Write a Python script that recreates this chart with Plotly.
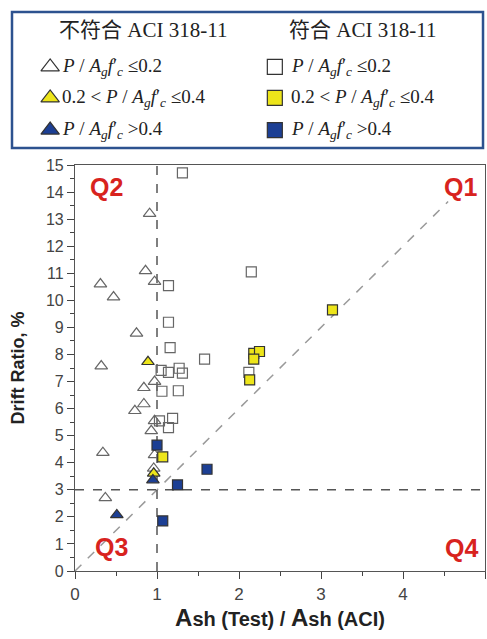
import plotly.graph_objects as go

# ---------------- data ----------------
# non-compliant (triangles)
tri_open_x = [0.91, 0.86, 0.97, 0.31, 0.47, 0.75, 0.32, 0.97, 0.84, 0.73, 0.84, 0.97, 0.93, 0.34, 0.97, 0.96, 0.37]
tri_open_y = [13.2, 11.09, 10.69, 10.6, 10.12, 8.78, 7.57, 7.0, 6.77, 5.92, 6.17, 5.55, 5.18, 4.37, 4.29, 3.79, 2.7]
tri_yel_x = [0.89, 0.96]
tri_yel_y = [7.73, 3.61]
tri_blue_x = [0.95, 0.51]
tri_blue_y = [3.36, 2.07]
# compliant (squares)
sq_open_x = [1.31, 2.15, 1.14, 1.14, 1.16, 1.58, 1.05, 1.14, 1.27, 1.31, 2.12, 1.06, 1.26, 1.03, 1.19, 1.14]
sq_open_y = [14.71, 11.05, 10.54, 9.19, 8.25, 7.83, 7.41, 7.34, 7.49, 7.31, 7.34, 6.64, 6.66, 5.55, 5.64, 5.3]
sq_yel_x = [3.14, 2.18, 2.25, 2.18, 2.13, 1.07]
sq_yel_y = [9.65, 8.04, 8.11, 7.83, 7.06, 4.22]
sq_blue_x = [1.0, 1.61, 1.25, 1.07]
sq_blue_y = [4.65, 3.76, 3.18, 1.85]

x_ticks = [0, 1, 2, 3, 4, 5]
y_ticks = list(range(0, 16))
quadrants = ["Q1", "Q2", "Q3", "Q4"]

legend_headers = ["不符合 ACI 318-11", "符合 ACI 318-11"]
ratio = "<i>P</i> / <i>A</i><sub><i>g</i></sub><i>f</i>′<sub><i>c</i></sub>"
legend_labels = [ratio + " ≤0.2", "0.2 < " + ratio + " ≤0.4", ratio + " >0.4"]

# ---------------- styles ----------------
YEL = "#EDE51A"
BLUE = "#1C3F94"
OPEN = "#666666"
EDGE = "#333333"

fig = go.Figure()

# reference lines (drawn as data lines in axis coords)
fig.add_trace(go.Scatter(x=[0, 4.55], y=[0, 13.65], mode="lines",
                         line=dict(color="#9a9a9a", width=1.5, dash="dash"),
                         hoverinfo="skip", showlegend=False))
fig.add_trace(go.Scatter(x=[1, 1], y=[0, 15], mode="lines",
                         line=dict(color="#555555", width=1.5, dash="dash"),
                         hoverinfo="skip", showlegend=False))
fig.add_trace(go.Scatter(x=[0, 5], y=[3, 3], mode="lines",
                         line=dict(color="#555555", width=1.5, dash="dash"),
                         hoverinfo="skip", showlegend=False))

def add_pts(x, y, symbol, color, edge, size, xa="x", ya="y"):
    fig.add_trace(go.Scatter(
        x=x, y=y, mode="markers", xaxis=xa, yaxis=ya, showlegend=False,
        marker=dict(symbol=symbol, size=size, color=color,
                    line=dict(color=edge, width=1.2))))

add_pts(tri_open_x, tri_open_y, "triangle-up", "rgba(255,255,255,0)", OPEN, 11)
add_pts(sq_open_x, sq_open_y, "square", "rgba(255,255,255,0)", OPEN, 10)
add_pts(sq_yel_x, sq_yel_y, "square", YEL, EDGE, 10)
add_pts(tri_yel_x, tri_yel_y, "triangle-up", YEL, EDGE, 11)
add_pts(sq_blue_x, sq_blue_y, "square", BLUE, EDGE, 10)
add_pts(tri_blue_x, tri_blue_y, "triangle-up", BLUE, EDGE, 11)

# ---------------- legend panel (second axes) ----------------
leg_col_x = [0.081, 0.558]
leg_row_y = [0.596, 0.368, 0.132]
leg_colors = ["rgba(255,255,255,0)", YEL, BLUE]
for ci, sym in enumerate(["triangle-up", "square"]):
    for ri in range(3):
        add_pts([leg_col_x[ci]], [leg_row_y[ri]], sym, leg_colors[ri], EDGE,
                16 if sym == "triangle-up" else 15, xa="x2", ya="y2")

serif = "Liberation Serif, Times New Roman, Noto Sans CJK SC"
ann = []
for hx, h in zip([0.0955, 0.584], legend_headers):
    ann.append(dict(x=hx, y=0.868, xref="x2", yref="y2", text=h, showarrow=False,
                    xanchor="left",
                    font=dict(family=serif, size=21, color="#222")))
for ci in range(2):
    for ri in range(3):
        ann.append(dict(x=leg_col_x[ci] + 0.02 + (0.0 if ci == 0 else 0.01), y=leg_row_y[ri],
                        xref="x2", yref="y2",
                        text=legend_labels[ri], showarrow=False, xanchor="left",
                        font=dict(family=serif, size=19, color="#222")))

# quadrant labels
q_pos = {"Q1": (4.70, 14.2), "Q2": (0.39, 14.2), "Q3": (0.45, 0.88), "Q4": (4.71, 0.85)}
for q in quadrants:
    qx, qy = q_pos[q]
    ann.append(dict(x=qx, y=qy, xref="x", yref="y", text="<b>" + q + "</b>", showarrow=False,
                    font=dict(family="Arial, Liberation Sans", size=25, color="#D8231E")))

xtitle = ("<b><span style='font-size:24px'>A</span>sh (Test) / "
          "<span style='font-size:24px'>A</span>sh (ACI)</b>")

fig.update_layout(
    width=487, height=639,
    margin=dict(l=12, r=2, t=10, b=68),
    paper_bgcolor="white", plot_bgcolor="white",
    annotations=ann,
    shapes=[dict(type="rect", xref="paper", yref="paper",
                 x0=0.0, x1=0.9958, y0=0.754, y1=0.9964,
                 line=dict(color="#2D528F", width=2.5), fillcolor="rgba(0,0,0,0)", layer="below")],
    xaxis=dict(domain=[0.1332, 1.0], range=[0, 5], tickvals=x_ticks, automargin=False,
               ticks="outside", ticklen=7, tickcolor="#444", showgrid=False, zeroline=False,
               showline=True, linecolor="#555", linewidth=1.2, mirror=True,
               minor=dict(dtick=0.5, ticks="outside", ticklen=4, tickcolor="#444"),
               tickfont=dict(family="Arial, Liberation Sans", size=17, color="#444"),
               title=dict(text=xtitle, standoff=6,
                          font=dict(family="Arial, Liberation Sans", size=20, color="#222"))),
    yaxis=dict(domain=[0, 0.7237], range=[0, 15], tickvals=y_ticks, automargin=False,
               ticks="outside", ticklen=7, tickcolor="#444", showgrid=False, zeroline=False,
               showline=True, linecolor="#555", linewidth=1.2, mirror=True,
               minor=dict(dtick=0.5, ticks="outside", ticklen=4, tickcolor="#444"),
               tickfont=dict(family="Arial, Liberation Sans", size=16, color="#444"),
               title=dict(text="<b>Drift Ratio, %</b>", standoff=16,
                          font=dict(family="Arial, Liberation Sans", size=18, color="#222"))),
    xaxis2=dict(domain=[0.0, 0.9958], range=[0, 1], visible=False, anchor="y2"),
    yaxis2=dict(domain=[0.754, 0.9964], range=[0, 1], visible=False, anchor="x2"),
)

fig.write_html("out.html", config={"displayModeBar": False},
               post_script="document.body.style.margin='0px';")
